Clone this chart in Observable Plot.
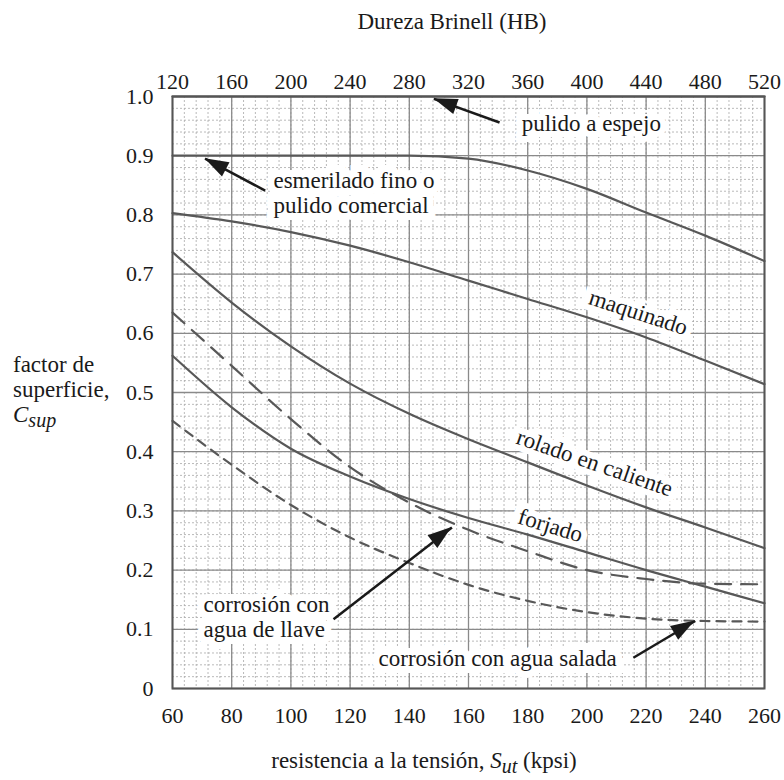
<!DOCTYPE html>
<html>
<head>
<meta charset="utf-8">
<script src="https://cdn.jsdelivr.net/npm/d3@7"></script>
<script src="https://cdn.jsdelivr.net/npm/@observablehq/plot@0.6"></script>
<style>
  html, body { margin: 0; padding: 0; background: #fff; }
  #chart { width: 784px; height: 780px; }
</style>
</head>
<body>
<div id="chart"></div>
<script>
// ---- data ----
const kpsi = [60, 80, 100, 120, 140, 160, 180, 200, 220, 240, 260];
const hbTickLabels = [120, 160, 200, 240, 280, 320, 360, 400, 440, 480, 520];
const yTicks = [0, 0.1, 0.2, 0.3, 0.4, 0.5, 0.6, 0.7, 0.8, 0.9, 1.0];

const pulidoEspejo   = [1.0, 1.0, 1.0, 1.0, 1.0, 1.0, 1.0, 1.0, 1.0, 1.0, 1.0];
const esmeriladoFino = [0.9, 0.9, 0.9, 0.9, 0.9, 0.895, 0.875, 0.844, 0.804, 0.765, 0.722];
const maquinado      = [0.803, 0.789, 0.771, 0.748, 0.72, 0.689, 0.658, 0.627, 0.593, 0.554, 0.514];
const roladoCaliente = [0.737, 0.652, 0.578, 0.515, 0.464, 0.421, 0.382, 0.343, 0.306, 0.272, 0.237];
const forjado        = [0.562, 0.475, 0.405, 0.358, 0.32, 0.288, 0.26, 0.23, 0.2, 0.172, 0.144];
const aguaLlave      = [0.635, 0.545, 0.455, 0.374, 0.314, 0.268, 0.232, 0.2, 0.185, 0.177, 0.176];
const aguaSalada     = [0.452, 0.378, 0.31, 0.255, 0.212, 0.175, 0.148, 0.129, 0.118, 0.114, 0.113];

const solidSeries = [
  {name: "pulido a espejo", values: pulidoEspejo},
  {name: "esmerilado", values: esmeriladoFino},
  {name: "maquinado", values: maquinado},
  {name: "rolado en caliente", values: roladoCaliente},
  {name: "forjado", values: forjado}
];
const toRows = (name, values) => kpsi.map((k, i) => ({k, v: values[i], name}));
const solidRows = solidSeries.flatMap(s => toRows(s.name, s.values));
const llaveRows = toRows("agua de llave", aguaLlave);
const saladaRows = toRows("agua salada", aguaSalada);

// annotation labels (data units)
const labelsStart = [
  {text: "esmerilado fino o\npulido comercial", x: 94.1, y: 0.838},
  {text: "corrosión con\nagua de llave", x: 70.5, y: 0.122},
  {text: "corrosión con agua salada", x: 129.6, y: 0.051}
];
const labelsMiddle = [
  {text: "pulido a espejo", x: 201.5, y: 0.955, rotate: 0},
  {text: "maquinado", x: 217.4, y: 0.635, rotate: 18},
  {text: "rolado en caliente", x: 202.6, y: 0.381, rotate: 19},
  {text: "forjado", x: 187.7, y: 0.275, rotate: 17}
];
const arrows = [
  {x1: 170.5, y1: 0.956, x2: 148.3, y2: 0.996},
  {x1: 91.3, y1: 0.841, x2: 71.0, y2: 0.895},
  {x1: 114.4, y1: 0.117, x2: 154.4, y2: 0.272},
  {x1: 215.7, y1: 0.052, x2: 236.6, y2: 0.114}
];

const minorX = d3.range(60, 261, 4);
const minorY = d3.range(0, 1.001, 0.02);

const FONT = "'Liberation Serif', 'Times New Roman', serif";
const INK = "#1a1a1a";
const CURVE = "#585858";

function arrowHeads(index, scales) {
  const g = d3.create("svg:g");
  for (const a of arrows) {
    const x1 = scales.x(a.x1), y1 = scales.y(a.y1), x2 = scales.x(a.x2), y2 = scales.y(a.y2);
    const ang = Math.atan2(y2 - y1, x2 - x1);
    const L = 24, W = 8;
    const bx = x2 - L * Math.cos(ang), by = y2 - L * Math.sin(ang);
    const px = -Math.sin(ang) * W, py = Math.cos(ang) * W;
    g.append("path")
      .attr("d", `M${x2},${y2}L${bx + px},${by + py}L${bx - px},${by - py}Z`)
      .attr("fill", INK);
  }
  return g.node();
}

const chart = Plot.plot({
  width: 784,
  height: 780,
  marginLeft: 172,
  marginRight: 20,
  marginTop: 96,
  marginBottom: 92,
  style: {fontFamily: FONT, fontSize: "22px", background: "#fff", color: INK},
  x: {domain: [60, 260]},
  y: {domain: [0, 1]},
  marks: [
    Plot.ruleX(minorX, {stroke: "#a8a8a8", strokeWidth: 0.8, strokeDasharray: "2,2"}),
    Plot.ruleY(minorY, {stroke: "#a8a8a8", strokeWidth: 0.8, strokeDasharray: "2,2"}),
    Plot.ruleX(kpsi, {stroke: "#8a8a8a", strokeWidth: 1.3}),
    Plot.ruleY(yTicks, {stroke: "#8a8a8a", strokeWidth: 1.3}),
    // white backing of the labels
    Plot.text(labelsStart, {x: "x", y: "y", text: "text", textAnchor: "start", lineHeight: 1.1,
      fontSize: 23, fill: "white", stroke: "white", strokeWidth: 14, strokeLinejoin: "miter"}),
    Plot.text(labelsMiddle, {x: "x", y: "y", text: "text", rotate: "rotate", textAnchor: "middle",
      fontSize: 23, fill: "white", stroke: "white", strokeWidth: 12, strokeLinejoin: "miter"}),
    // curves
    Plot.line(solidRows, {x: "k", y: "v", z: "name", curve: "monotone-x", stroke: CURVE, strokeWidth: 2.2}),
    Plot.line(llaveRows, {x: "k", y: "v", curve: "monotone-x", stroke: CURVE, strokeWidth: 2.2, strokeDasharray: "16,10"}),
    Plot.line(saladaRows, {x: "k", y: "v", curve: "monotone-x", stroke: CURVE, strokeWidth: 2.2, strokeDasharray: "9,7"}),
    Plot.frame({stroke: "#555", strokeWidth: 2}),
    // axes
    Plot.axisX({ticks: kpsi, tickSize: 0, tickPadding: 19, fontSize: 22, label: null, fill: INK}),
    Plot.axisX({anchor: "top", ticks: kpsi, tickSize: 0, tickPadding: 8, fontSize: 22, label: null, fill: INK,
      tickFormat: (d) => hbTickLabels[kpsi.indexOf(d)]}),
    Plot.axisY({ticks: yTicks, tickSize: 0, tickPadding: 19, fontSize: 22, label: null, fill: INK,
      tickFormat: (d) => d === 0 ? "0" : d.toFixed(1)}),
    // label text
    Plot.text(labelsStart, {x: "x", y: "y", text: "text", textAnchor: "start", lineHeight: 1.1,
      fontSize: 23, fill: INK}),
    Plot.text(labelsMiddle, {x: "x", y: "y", text: "text", rotate: "rotate", textAnchor: "middle",
      fontSize: 23, fill: INK}),
    // arrows
    Plot.link(arrows, {x1: "x1", y1: "y1", x2: "x2", y2: "y2", stroke: INK, strokeWidth: 2.5}),
    arrowHeads
  ]
});

const svg = d3.select(chart);
// top title
svg.append("text").attr("x", 452).attr("y", 29).attr("text-anchor", "middle")
  .attr("font-size", 23).attr("fill", INK).text("Dureza Brinell (HB)");
// bottom title
const bt = svg.append("text").attr("x", 424).attr("y", 768).attr("text-anchor", "middle")
  .attr("font-size", 23).attr("fill", INK);
bt.append("tspan").text("resistencia a la tensión, ");
bt.append("tspan").attr("font-style", "italic").text("S");
bt.append("tspan").attr("font-style", "italic").attr("font-size", 20).attr("dy", 5).text("ut");
bt.append("tspan").attr("dy", -5).text(" (kpsi)");
// y title
const yt = svg.append("g").attr("font-size", 23).attr("fill", INK).attr("text-anchor", "start");
yt.append("text").attr("x", 13).attr("y", 372).attr("text-anchor", "start").text("factor de");
yt.append("text").attr("x", 13).attr("y", 397).attr("text-anchor", "start").text("superficie,");
const ct = yt.append("text").attr("x", 13).attr("y", 422).attr("text-anchor", "start");
ct.append("tspan").attr("font-style", "italic").text("C");
ct.append("tspan").attr("font-style", "italic").attr("font-size", 20).attr("dy", 5).text("sup");

document.getElementById("chart").appendChild(chart);
</script>
</body>
</html>
